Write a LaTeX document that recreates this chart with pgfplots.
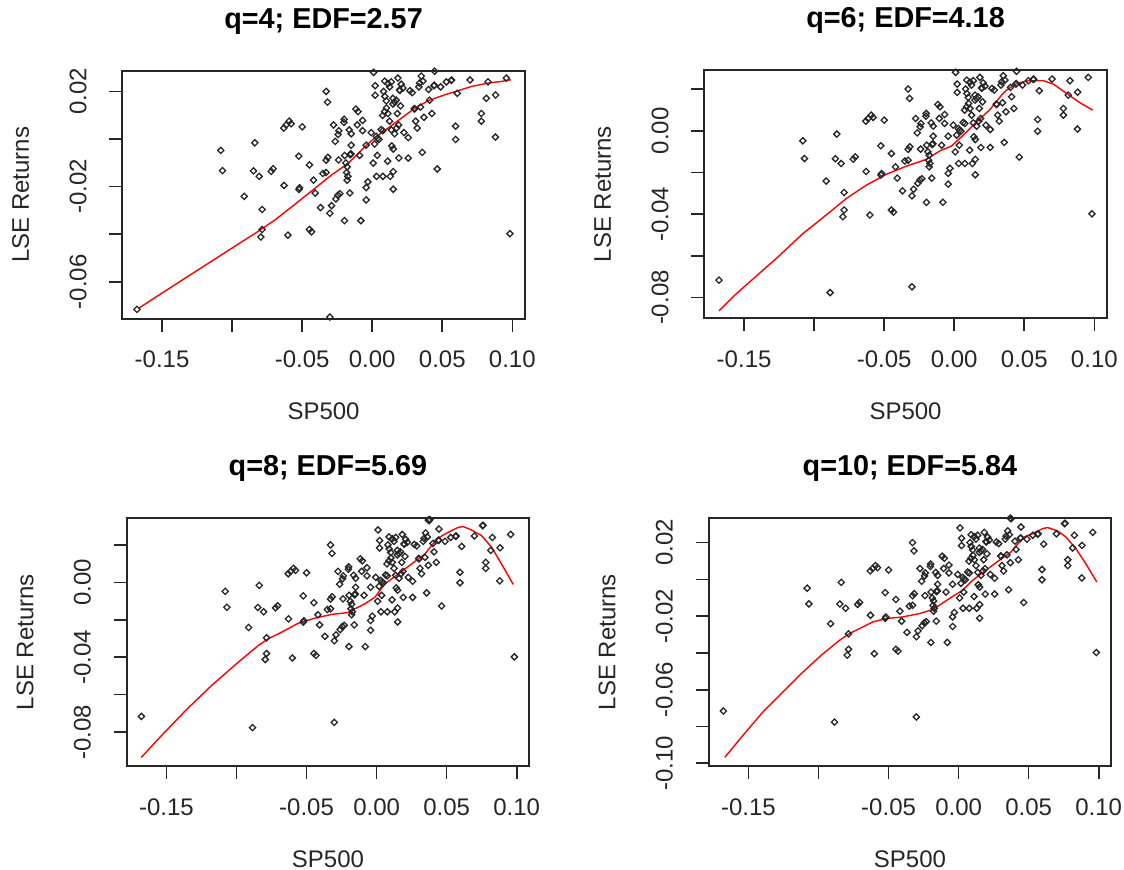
\documentclass[border=0pt]{standalone}
\usepackage{fontspec}
\setmainfont{Liberation Sans}
\usepackage{pgfplots}
\usepackage{pgfplotstable}
\pgfplotsset{compat=1.18}

\pgfplotstableread{
x y
-0.1679 -0.0716
-0.0886 -0.0776
-0.0302 -0.0748
0.0983 -0.0398
-0.1081 -0.0048
-0.1069 -0.0133
-0.0914 -0.0241
-0.0838 -0.0016
-0.0848 -0.0134
-0.0807 -0.0157
-0.0786 -0.0296
-0.0786 -0.0380
-0.0795 -0.0412
-0.0721 -0.0136
-0.0707 -0.0125
-0.0629 -0.0195
-0.0602 -0.0404
-0.0631 0.0046
-0.0614 0.0059
-0.0593 0.0075
-0.0579 0.0064
-0.0500 0.0051
-0.0524 -0.0072
-0.0524 -0.0212
-0.0519 -0.0205
-0.0448 -0.0109
-0.0448 -0.0380
-0.0433 -0.0390
-0.0419 -0.0173
-0.0407 -0.0227
-0.0369 -0.0288
-0.0352 -0.0145
-0.0329 -0.0141
-0.0329 0.0200
-0.0319 0.0155
-0.0329 -0.0089
-0.0317 -0.0077
-0.0302 -0.0312
-0.0290 -0.0280
-0.0276 0.0059
-0.0264 -0.0010
-0.0260 -0.0252
-0.0245 -0.0236
-0.0231 -0.0230
-0.0238 0.0035
-0.0243 0.0019
-0.0240 -0.0088
-0.0200 0.0083
-0.0202 0.0070
-0.0198 -0.0343
-0.0197 -0.0069
-0.0188 -0.0101
-0.0179 -0.0117
-0.0183 -0.0141
-0.0174 -0.0157
-0.0179 -0.0173
-0.0164 0.0038
-0.0150 0.0022
-0.0150 -0.0026
-0.0155 -0.0064
-0.0152 -0.0062
-0.0158 -0.0066
-0.0160 -0.0227
-0.0117 0.0126
-0.0102 0.0115
-0.0107 0.0059
-0.0090 -0.0069
-0.0081 -0.0343
-0.0069 0.0078
-0.0069 0.0035
-0.0043 -0.0026
-0.0043 -0.0256
-0.0043 -0.0204
-0.0031 -0.0180
-0.0007 0.0027
0.0007 -0.0101
0.0010 0.0280
0.0021 0.0224
0.0021 0.0184
0.0017 -0.0021
0.0036 -0.0069
0.0029 0.0011
0.0038 0.0003
0.0048 -0.0002
0.0031 -0.0157
0.0076 -0.0157
0.0064 0.0040
0.0076 0.0035
0.0081 0.0200
0.0089 0.0243
0.0090 0.0179
0.0100 0.0160
0.0112 0.0233
0.0124 0.0219
0.0136 0.0240
0.0074 0.0099
0.0088 0.0115
0.0102 0.0131
0.0112 0.0107
0.0124 0.0075
0.0110 -0.0093
0.0140 -0.0029
0.0150 -0.0042
0.0129 -0.0157
0.0150 -0.0137
0.0150 -0.0211
0.0136 0.0038
0.0160 0.0022
0.0174 0.0046
0.0190 -0.0080
0.0195 0.0206
0.0198 0.0204
0.0183 0.0256
0.0207 0.0230
0.0219 0.0214
0.0148 0.0147
0.0148 0.0171
0.0160 0.0155
0.0171 0.0163
0.0202 0.0139
0.0179 0.0107
0.0188 0.0059
0.0226 0.0027
0.0257 0.0006
0.0257 -0.0080
0.0269 0.0203
0.0286 0.0195
0.0300 0.0128
0.0303 0.0126
0.0310 0.0075
0.0321 0.0046
0.0333 0.0219
0.0350 0.0264
0.0362 0.0243
0.0338 0.0235
0.0345 0.0134
0.0369 0.0091
0.0357 -0.0056
0.0410 0.0163
0.0426 0.0107
0.0402 0.0208
0.0440 0.0224
0.0443 0.0226
0.0464 -0.0126
0.0488 0.0219
0.0529 0.0240
0.0564 0.0246
0.0567 0.0248
0.0607 0.0192
0.0595 0.0054
0.0595 -0.0002
0.0698 0.0248
0.0779 0.0107
0.0779 0.0075
0.0814 0.0171
0.0826 0.0240
0.0881 0.0185
0.0879 0.0008
0.0957 0.0256
0.0445 0.0285
0.0047 0.0345
0.0369 0.0333
0.0375 0.0330
0.0380 0.0336
0.0756 0.0303
0.0760 0.0305
}\pts

\pgfplotsset{
 panel/.style={
  scale only axis, anchor=south west,
  width=402.5bp, height=248bp,
  xmin=-0.1784, xmax=0.1089,
  scaled x ticks=false, scaled y ticks=false,
  xtick={-0.15,-0.10,-0.05,0,0.05,0.10},
  xticklabels={-0.15,,-0.05,0.00,0.05,0.10},
  tick align=outside, major tick length=13bp,
  xtick pos=left, ytick pos=left,
  axis line style={line width=1.8bp, black!85},
  every tick/.append style={line width=1.6bp, black!85},
  tick label style={font=\fontsize{24bp}{28bp}\selectfont, inner sep=0pt, text=black!85},
  xticklabel style={anchor=base},
  yticklabel style={rotate=90, anchor=base},
  xticklabel shift=36bp, yticklabel shift=23bp,
  xlabel={SP500}, ylabel={LSE Returns},
  label style={font=\fontsize{24bp}{28bp}\selectfont, inner sep=0pt, text=black!85},
  xlabel style={at={(axis description cs:0.5,0)}, anchor=base, yshift=-101bp},
  ylabel style={at={(axis description cs:-0.232,0.5)}, anchor=base},
  title style={at={(axis description cs:0.5,1)}, anchor=base, yshift=36.5bp, font=\bfseries\fontsize{28.8bp}{33bp}\selectfont, inner sep=0pt},
 },
 pts/.style={only marks, mark=square, mark size=2.2bp, mark options={rotate=45, line width=1.3bp, draw=black!85}},
 fit/.style={red, line width=1.4bp, no marks},
}

\begin{document}
\begin{tikzpicture}
\path[use as bounding box] (0bp,0bp) rectangle (1124bp,870bp);

\begin{axis}[panel, name=tl, at={(122.3bp,551.3bp)},
  ymin=-0.0755, ymax=0.0287,
  ytick={-0.06,-0.04,-0.02,0,0.02}, yticklabels={-0.06,,-0.02,,0.02},
  title={q=4; EDF=2.57}]
\addplot[pts] table {\pts};
\addplot[fit] coordinates {(-0.1669,-0.0712) (-0.1526,-0.0657) (-0.1360,-0.0594) (-0.1217,-0.0540) (-0.1098,-0.0495) (-0.0979,-0.0450) (-0.0837,-0.0397) (-0.0694,-0.0340) (-0.0551,-0.0274) (-0.0409,-0.0207) (-0.0290,-0.0151) (-0.0171,-0.0102) (-0.0076,-0.0046) (0.0019,0.0006) (0.0114,0.0046) (0.0209,0.0088) (0.0305,0.0130) (0.0400,0.0161) (0.0519,0.0186) (0.0614,0.0203) (0.0709,0.0221) (0.0828,0.0235) (0.0923,0.0242) (0.0989,0.0249)};
\end{axis}

\begin{axis}[panel, name=tr, at={(704.3bp,551.7bp)},
  ymin=-0.0899, ymax=0.029,
  ytick={-0.08,-0.06,-0.04,-0.02,0,0.02}, yticklabels={-0.08,,-0.04,,0.00,},
  title={q=6; EDF=4.18}]
\addplot[pts] table {\pts};
\addplot[fit] coordinates {(-0.1679,-0.0863) (-0.1560,-0.0784) (-0.1257,-0.0604) (-0.1079,-0.0492) (-0.0983,-0.0441) (-0.0900,-0.0396) (-0.0769,-0.0324) (-0.0626,-0.0260) (-0.0483,-0.0208) (-0.0340,-0.0169) (-0.0198,-0.0137) (-0.0102,-0.0096) (-0.0019,-0.0073) (0.0064,-0.0021) (0.0160,0.0043) (0.0255,0.0102) (0.0338,0.0171) (0.0374,0.0195) (0.0445,0.0227) (0.0529,0.0240) (0.0636,0.0240) (0.0707,0.0224) (0.0802,0.0179) (0.0898,0.0134) (0.0988,0.0099)};
\end{axis}

\begin{axis}[panel, name=bl, at={(126.7bp,104bp)},
  ymin=-0.0981, ymax=0.0344,
  ytick={-0.08,-0.06,-0.04,-0.02,0,0.02}, yticklabels={-0.08,,-0.04,,0.00,},
  title={q=8; EDF=5.69}]
\addplot[pts] table {\pts};
\addplot[fit] coordinates {(-0.1681,-0.0936) (-0.1534,-0.0817) (-0.1355,-0.0678) (-0.1177,-0.0550) (-0.0987,-0.0426) (-0.0844,-0.0337) (-0.0773,-0.0301) (-0.0678,-0.0266) (-0.0559,-0.0218) (-0.0440,-0.0191) (-0.0321,-0.0171) (-0.0202,-0.0161) (-0.0155,-0.0141) (-0.0083,-0.0114) (-0.0012,-0.0079) (0.0059,-0.0008) (0.0154,0.0045) (0.0250,0.0099) (0.0345,0.0152) (0.0392,0.0197) (0.0440,0.0237) (0.0511,0.0268) (0.0582,0.0294) (0.0618,0.0298) (0.0677,0.0280) (0.0749,0.0250) (0.0820,0.0188) (0.0891,0.0099) (0.0975,-0.0011)};
\end{axis}

\begin{axis}[panel, name=br, at={(708.7bp,104bp)},
  ymin=-0.1015, ymax=0.0334,
  ytick={-0.10,-0.08,-0.06,-0.04,-0.02,0,0.02}, yticklabels={-0.10,,-0.06,,-0.02,,0.02},
  title={q=10; EDF=5.84}]
\addplot[pts] table {\pts};
\addplot[fit] coordinates {(-0.1669,-0.0968) (-0.1538,-0.0847) (-0.1396,-0.0720) (-0.1218,-0.0584) (-0.1123,-0.0512) (-0.0980,-0.0412) (-0.0850,-0.0331) (-0.0778,-0.0294) (-0.0612,-0.0231) (-0.0517,-0.0213) (-0.0399,-0.0204) (-0.0280,-0.0186) (-0.0185,-0.0164) (-0.0137,-0.0140) (-0.0066,-0.0104) (0.0029,-0.0059) (0.0100,-0.0005) (0.0195,0.0050) (0.0290,0.0104) (0.0373,0.0149) (0.0420,0.0191) (0.0468,0.0231) (0.0527,0.0249) (0.0599,0.0276) (0.0634,0.0282) (0.0705,0.0264) (0.0765,0.0231) (0.0836,0.0168) (0.0907,0.0086) (0.0986,-0.0014)};
\end{axis}

\foreach \n in {tl,tr,bl,br}{
  \draw[line width=1.8bp, black!85] (\n.south west) rectangle (\n.north east);
}
\end{tikzpicture}
\end{document}
